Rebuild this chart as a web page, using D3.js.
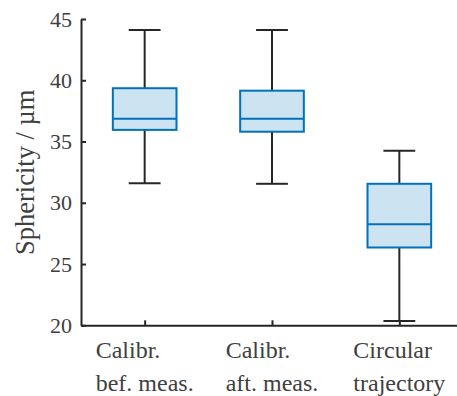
<!DOCTYPE html>
<html>
<head>
<meta charset="utf-8">
<script src="https://cdn.jsdelivr.net/npm/d3@7"></script>
<style>
  body { margin: 0; background: #fff; }
</style>
</head>
<body>
<div class="chart"></div>
<script>
'use strict';

// Box plot statistics
var categories  = [['Calibr.', 'bef. meas.'], ['Calibr.', 'aft. meas.'], ['Circular', 'trajectory']];
var whiskerLow  = [31.6, 31.55, 20.35];
var q1          = [35.95, 35.8, 26.35];
var median      = [36.85, 36.85, 28.25];
var q3          = [39.35, 39.15, 31.55];
var whiskerHigh = [44.1, 44.1, 34.25];
var yTicks      = [20, 25, 30, 35, 40, 45];
var yLabel      = 'Sphericity / \u00b5m';

var width  = 457,
    height = 396,
    font   = '"Liberation Serif", "Times New Roman", serif',
    ink    = '#404040',
    dark   = '#262626';

var svg = d3.select('.chart')
  .append('svg')
  .attr('width', width)
  .attr('height', height);

var x = d3.scaleLinear().domain([0.5, categories.length + 0.5]).range([81, 463]);
var y = d3.scaleLinear().domain([20, 45]).range([325.3, 19]);

var boxes = categories.map(function(c, i) {
  return { pos: i + 1, lo: whiskerLow[i], q1: q1[i], med: median[i], q3: q3[i], hi: whiskerHigh[i] };
});

var boxHalf = (x(2) - x(1)) * 0.25,
    capHalf = boxHalf / 2;

// Axes
var yAxis = svg.append('g')
  .attr('transform', 'translate(' + x(0.5) + ',0)')
  .call(d3.axisLeft(y).tickValues(yTicks).tickSizeInner(-5).tickSizeOuter(0).tickPadding(9));

var xAxis = svg.append('g')
  .attr('transform', 'translate(0,' + y(20) + ')')
  .call(d3.axisBottom(x).tickValues([1, 2, 3]).tickSizeInner(-5).tickSizeOuter(0).tickFormat(''));

[yAxis, xAxis].forEach(function(a) {
  a.select('.domain').attr('stroke', dark).attr('stroke-width', 2);
  a.selectAll('.tick line').attr('stroke', dark).attr('stroke-width', 2);
});
yAxis.selectAll('.tick text')
  .attr('fill', ink)
  .style('font-family', font)
  .style('font-size', '22px');

// Category labels: lines left-aligned, block centred under the tick
categories.forEach(function(lines, i) {
  var t = svg.append('text')
    .attr('fill', ink)
    .style('font-family', font)
    .style('font-size', '24px');
  lines.forEach(function(line, j) {
    t.append('tspan').attr('y', 358.3 + j * 32.2).text(line);
  });
  var w = d3.max(t.selectAll('tspan').nodes(), function(n) { return n.getComputedTextLength(); });
  t.selectAll('tspan').attr('x', x(i + 1) - w / 2);
});

// Y label
svg.append('text')
  .attr('transform', 'translate(34,172.3) rotate(-90)')
  .attr('text-anchor', 'middle')
  .attr('fill', ink)
  .style('font-family', font)
  .style('font-size', '26.5px')
  .text(yLabel);

// Boxes
var g = svg.selectAll('g.box')
  .data(boxes).enter()
  .append('g')
    .attr('class', 'box');

g.append('line')
  .attr('x1', function(d) { return x(d.pos); })
  .attr('x2', function(d) { return x(d.pos); })
  .attr('y1', function(d) { return y(d.hi); })
  .attr('y2', function(d) { return y(d.lo); })
  .attr('stroke', dark)
  .attr('stroke-width', 2);

g.selectAll('line.cap')
  .data(function(d) { return [{ pos: d.pos, v: d.lo }, { pos: d.pos, v: d.hi }]; })
  .enter().append('line')
    .attr('class', 'cap')
    .attr('x1', function(d) { return x(d.pos) - capHalf; })
    .attr('x2', function(d) { return x(d.pos) + capHalf; })
    .attr('y1', function(d) { return y(d.v); })
    .attr('y2', function(d) { return y(d.v); })
    .attr('stroke', dark)
    .attr('stroke-width', 2);

g.append('rect')
  .attr('x', function(d) { return x(d.pos) - boxHalf; })
  .attr('width', boxHalf * 2)
  .attr('y', function(d) { return y(d.q3); })
  .attr('height', function(d) { return y(d.q1) - y(d.q3); })
  .attr('fill', '#cce3f1')
  .attr('stroke', '#0072bd')
  .attr('stroke-width', 2);

g.append('line')
  .attr('x1', function(d) { return x(d.pos) - boxHalf; })
  .attr('x2', function(d) { return x(d.pos) + boxHalf; })
  .attr('y1', function(d) { return y(d.med); })
  .attr('y2', function(d) { return y(d.med); })
  .attr('stroke', '#0072bd')
  .attr('stroke-width', 2);
</script>
</body>
</html>
